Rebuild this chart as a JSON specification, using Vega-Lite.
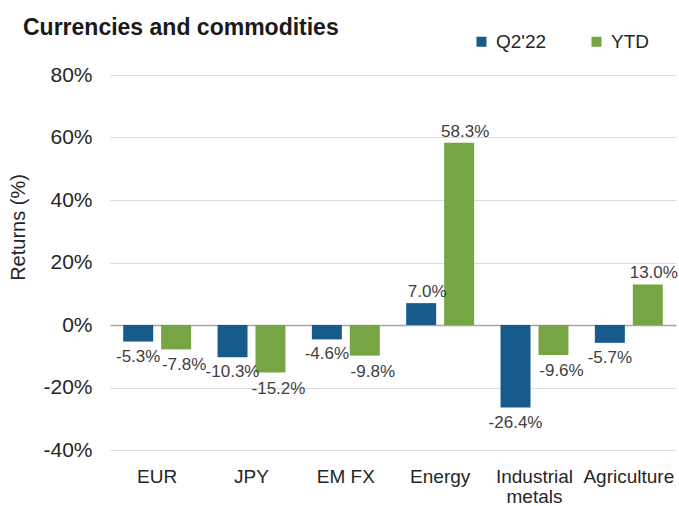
{
  "$schema": "https://vega.github.io/schema/vega-lite/v6.json",
  "width": 566,
  "height": 375,
  "autosize": {"type": "none"},
  "padding": {"left": 110, "top": 75, "right": 3, "bottom": 56},
  "background": "white",
  "config": {
    "view": {"stroke": null},
    "font": "Liberation Sans",
    "axis": {"labelFont": "Liberation Sans", "titleFont": "Liberation Sans"}
  },
  "title": {
    "text": "Currencies and commodities",
    "anchor": "start",
    "frame": "group",
    "dx": -87,
    "dy": 12,
    "fontSize": 23,
    "fontWeight": "bold",
    "color": "#1a1a1a",
    "font": "Liberation Sans"
  },
  "data": {
    "values": [
      {"category": "EUR", "series": "Q2'22", "value": -5.3},
      {"category": "EUR", "series": "YTD", "value": -7.8},
      {"category": "JPY", "series": "Q2'22", "value": -10.3},
      {"category": "JPY", "series": "YTD", "value": -15.2},
      {"category": "EM FX", "series": "Q2'22", "value": -4.6},
      {"category": "EM FX", "series": "YTD", "value": -9.8},
      {"category": "Energy", "series": "Q2'22", "value": 7.0},
      {"category": "Energy", "series": "YTD", "value": 58.3},
      {"category": "Industrial metals", "series": "Q2'22", "value": -26.4},
      {"category": "Industrial metals", "series": "YTD", "value": -9.6},
      {"category": "Agriculture", "series": "Q2'22", "value": -5.7},
      {"category": "Agriculture", "series": "YTD", "value": 13.0}
    ]
  },
  "transform": [{"calculate": "replace(format(datum.value, '.1f'), '\u2212', '-') + '%'", "as": "label"}],
  "encoding": {
    "x": {
      "field": "category",
      "type": "nominal",
      "sort": ["EUR", "JPY", "EM FX", "Energy", "Industrial metals", "Agriculture"],
      "scale": {"paddingInner": 0.28, "paddingOuter": 0.14},
      "axis": {
        "title": null,
        "labelAngle": 0,
        "domain": false,
        "ticks": false,
        "labelFontSize": 19,
        "labelColor": "#262626",
        "labelPadding": 17,
        "labelExpr": "datum.value == 'Industrial metals' ? ['Industrial', 'metals'] : datum.value",
        "labelLineHeight": 20
      }
    },
    "xOffset": {
      "field": "series",
      "type": "nominal",
      "scale": {"paddingInner": 0.21, "paddingOuter": 0}
    },
    "y": {
      "field": "value",
      "type": "quantitative",
      "scale": {"domain": [-40, 80], "nice": false},
      "axis": {
        "title": "Returns (%)",
        "titleFontSize": 20,
        "titleFontWeight": "normal",
        "titleColor": "#262626",
        "titlePadding": 14,
        "titleY": 152,
        "values": [-40, -20, 0, 20, 40, 60, 80],
        "labelExpr": "datum.value + '%'",
        "labelFontSize": 21,
        "labelColor": "#262626",
        "labelPadding": 18,
        "domain": false,
        "ticks": false,
        "grid": true,
        "gridColor": {"condition": {"test": "datum.value === 0", "value": "#a6a6a6"}, "value": "#dcdcdc"},
        "gridWidth": {"condition": {"test": "datum.value === 0", "value": 1.5}, "value": 1}
      }
    }
  },
  "layer": [
    {
      "mark": {"type": "bar", "stroke": null},
      "encoding": {
        "color": {
          "field": "series",
          "type": "nominal",
          "scale": {"domain": ["Q2'22", "YTD"], "range": ["#175a8c", "#76a543"]},
          "legend": {
            "title": null,
            "orient": "none",
            "direction": "horizontal",
            "legendX": 362,
            "legendY": -43,
            "symbolType": "square",
            "symbolSize": 100,
            "labelFontSize": 19,
            "labelColor": "#262626",
            "labelFont": "Liberation Sans",
            "columnPadding": 40,
            "symbolOffset": 0,
            "labelOffset": 5
          }
        }
      }
    },
    {
      "transform": [{"filter": "datum.value < 0 && datum.series == \"Q2'22\""}],
      "mark": {"type": "text", "baseline": "top", "dy": 7, "dx": 0, "fontSize": 17, "color": "#404040"},
      "encoding": {
        "text": {"field": "label", "type": "nominal"}
      }
    },
    {
      "transform": [{"filter": "datum.value < 0 && datum.series == 'YTD'"}],
      "mark": {"type": "text", "baseline": "top", "dy": 8, "dx": 8, "fontSize": 17, "color": "#404040"},
      "encoding": {
        "text": {"field": "label", "type": "nominal"}
      }
    },
    {
      "transform": [{"filter": "datum.value >= 0"}],
      "mark": {"type": "text", "baseline": "bottom", "dy": -2, "dx": 6, "fontSize": 17, "color": "#404040"},
      "encoding": {
        "text": {"field": "label", "type": "nominal"}
      }
    }
  ]
}
